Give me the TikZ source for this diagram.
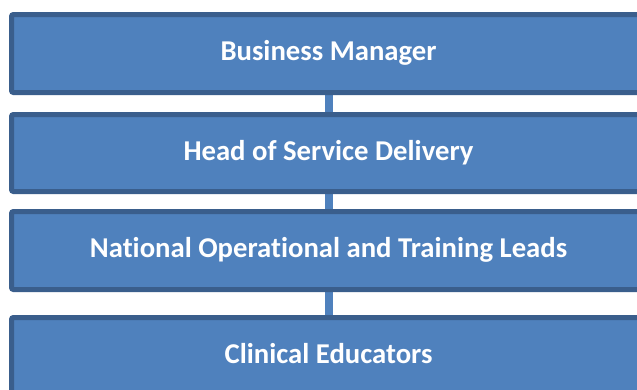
\documentclass[tikz,border=0pt]{standalone}
\usepackage{fontspec}
\setmainfont[Ligatures={NoCommon}]{Carlito}
\usetikzlibrary{backgrounds}
\definecolor{boxfill}{HTML}{4F81BD}
\definecolor{boxline}{HTML}{3A5E8C}
\begin{document}
\begin{tikzpicture}[x=1pt,y=-1pt,
  orgbox/.style={draw=boxline,fill=boxfill,line width=5pt,rounded corners=2pt,
    minimum width=634pt,inner sep=0pt,text=white,
    font=\bfseries\fontsize{28.7}{30}\selectfont,text height=18.5pt,text depth=4pt},
  link/.style={draw=boxfill,line width=7.5pt}]
\useasboundingbox (0,0) rectangle (637,389);
\clip (0,0) rectangle (637,389);
\node[orgbox,minimum height=78pt] (b1) at (328.5,53.5) {Business Manager};
\node[orgbox,minimum height=77pt] (b2) at (328.5,153) {Head of Service Delivery};
\node[orgbox,minimum height=78pt] (b3) at (328.5,250.5) {National Operational and Training Leads};
\node[orgbox,minimum height=78pt] (b4) at (328.5,356.5) {Clinical Educators};
\begin{scope}[on background layer]
\fill[white] (0,0) rectangle (637,389);
\draw[link] (b1.south -| 329,0) -- (b2.north -| 329,0);
\draw[link] (b2.south -| 329,0) -- (b3.north -| 329,0);
\draw[link] (b3.south -| 329,0) -- (b4.north -| 329,0);
\end{scope}
\end{tikzpicture}
\end{document}
